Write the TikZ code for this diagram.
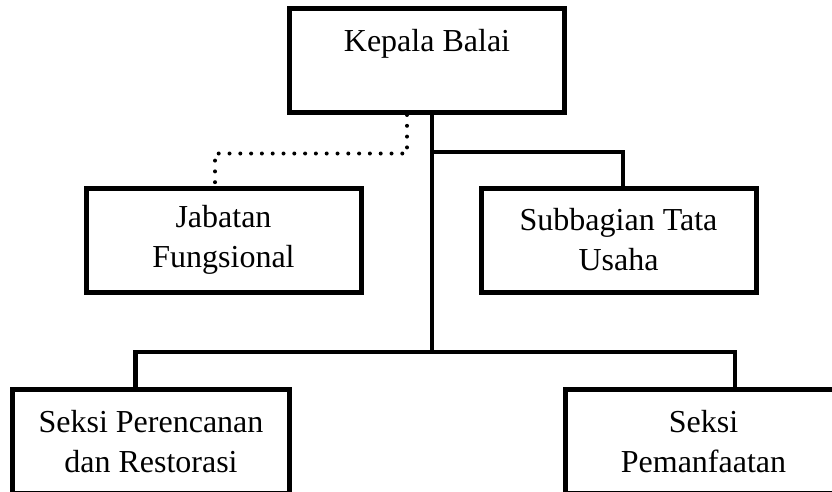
\documentclass[tikz,border=0pt]{standalone}
\usepackage{fontspec}
\setmainfont{Liberation Serif}
\begin{document}
\begin{tikzpicture}[x=1pt,y=-1pt,line width=4.5pt,
    font=\fontsize{32}{40}\selectfont,inner sep=0pt,
    unit/.style={draw,line width=5pt,align=center,
      minimum width=275pt,minimum height=104pt},
    dotlink/.style={line width=4pt,dash pattern=on 0pt off 10.8pt,line cap=round}]
    \path[use as bounding box] (0,0) rectangle (832,492);
    % boxes
    \node[unit] (kepala) at (427,60.5) {Kepala Balai\\\mbox{}};
    \node[unit] (jabatan) at (223.5,240) {Jabatan\\Fungsional};
    \node[unit] (subbagian) at (618.5,240) {Subbagian Tata\\Usaha};
    \node[unit,minimum width=277pt] (perencanaan) at (151,441.5)
      {Seksi Perencanan\\dan Restorasi};
    \node[unit,minimum width=277pt] (pemanfaatan) at (703.5,441.5)
      {Seksi\\Pemanfaatan};
    % lines
    \coordinate (tap) at (432,152);
    \coordinate (bus) at (432,352);
    \draw (kepala.south -| bus) -- (bus);
    \draw (tap) -| ([xshift=4.5pt]subbagian.north);
    \draw (bus) -| ([xshift=-15.5pt]perencanaan.north);
    \draw (bus) -| ([xshift=31.5pt]pemanfaatan.north);
    \draw[dotlink] ([xshift=-20pt]kepala.south) -- ++(0,38.5)
      -| ([xshift=-8.5pt]jabatan.north);
  \end{tikzpicture}
\end{document}
